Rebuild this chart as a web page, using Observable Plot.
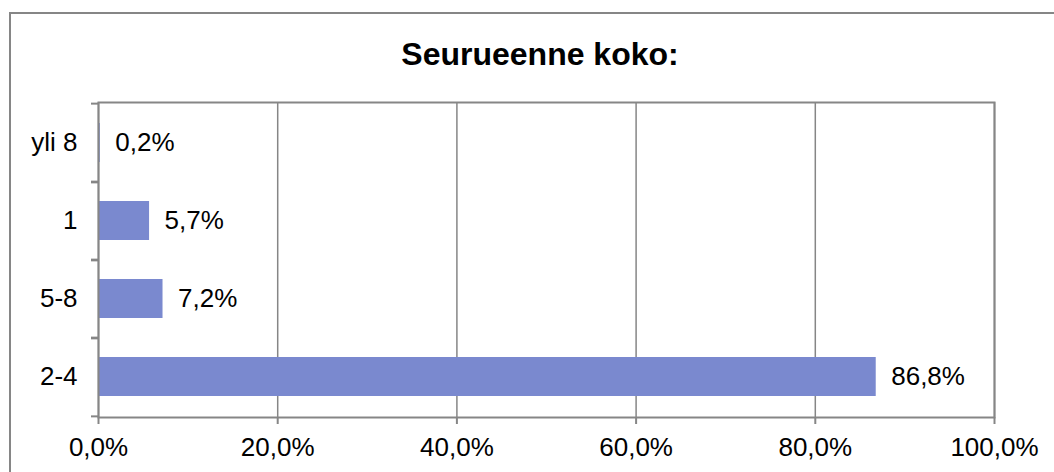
<!DOCTYPE html>
<html><head><meta charset="utf-8">
<script src="https://cdn.jsdelivr.net/npm/d3@7"></script>
<script src="https://cdn.jsdelivr.net/npm/@observablehq/plot@0.6"></script>
<style>
body{margin:0;background:#fff;}
#wrap{position:relative;width:1054px;height:472px;overflow:hidden;font-family:Arial,"Liberation Sans",sans-serif;}
#box{position:absolute;left:9px;top:12px;width:1100px;height:520px;border:2px solid #868686;box-sizing:border-box;}
#title{position:absolute;left:0;top:38px;width:1080px;text-align:center;font-weight:bold;font-size:32px;line-height:32px;color:#000;}
#chart{position:absolute;left:0;top:0;}
</style>
</head><body>
<div id="wrap"><div id="box"></div><div id="title">Seurueenne koko:</div><div id="chart"></div></div>
<script>
const categories = ["yli 8", "1", "5-8", "2-4"];
const values = [0.2, 5.7, 7.2, 86.8];
const xTicks = [0, 20, 40, 60, 80, 100];

const data = categories.map((c, i) => ({category: c, value: values[i]}));
const fmt = v => v.toFixed(1).replace(".", ",") + "%";
const gray = "#868686";
const mTop = 102, mBottom = 55;
const halfStep = (472 - mTop - mBottom) / categories.length / 2;
const fs = 26;

const chart = Plot.plot({
  width: 1054, height: 472,
  marginLeft: 98, marginRight: 60, marginTop: mTop, marginBottom: mBottom,
  style: {background: "transparent", fontFamily: "Arial, 'Liberation Sans', sans-serif", fontSize: fs + "px", color: "#000"},
  x: {domain: [0, 100], label: null},
  y: {domain: categories, paddingInner: 0.5, paddingOuter: 0.25, label: null},
  marks: [
    Plot.gridX(xTicks, {stroke: gray, strokeOpacity: 1, strokeWidth: 1.5}),
    Plot.barX(data, {x: "value", y: "category", fill: "#7a89cf"}),
    Plot.text(data, {x: "value", y: "category", text: d => fmt(d.value), textAnchor: "start", dx: 15, fontSize: fs, fill: "#000"}),
    Plot.axisX(xTicks, {tickFormat: fmt, tickSize: 7, tickPadding: 13, stroke: gray, strokeWidth: 2, fontSize: fs, fill: "#000", label: null}),
    Plot.axisY({tickSize: 0, tickPadding: 21, fontSize: fs, fill: "#000", label: null}),
    Plot.axisY({tickSize: 7, tickFormat: () => "", dy: halfStep, stroke: gray, strokeWidth: 2, label: null}),
    Plot.axisY({tickSize: 7, tickFormat: () => "", dy: -halfStep, stroke: gray, strokeWidth: 2, label: null}),
    Plot.frame({stroke: gray, strokeWidth: 2})
  ]
});
document.getElementById("chart").appendChild(chart);
</script>
</body></html>
